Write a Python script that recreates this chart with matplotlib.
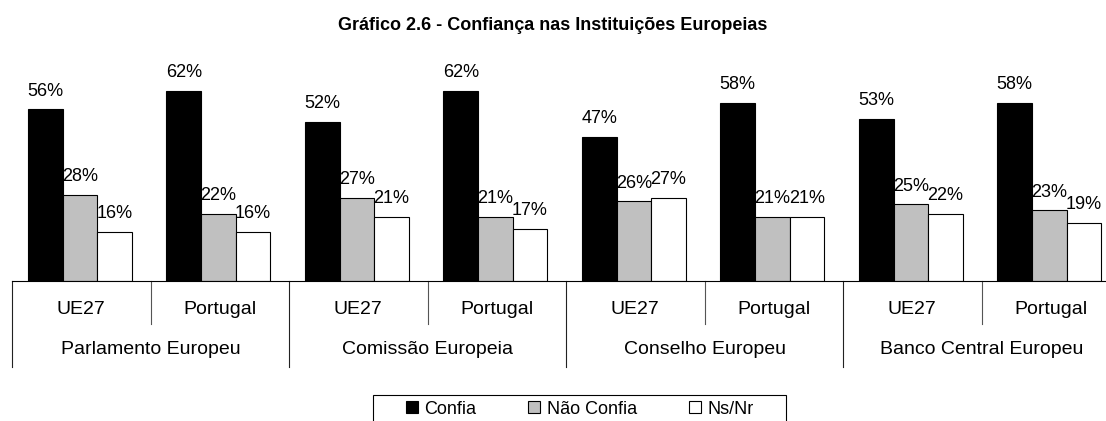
"""Gráfico 2.6 - Confiança nas Instituições Europeias (grouped bars with two-level category axis)."""

import matplotlib
matplotlib.use("Agg")
import matplotlib.pyplot as plt
import numpy as np
from matplotlib.lines import Line2D
from matplotlib.patches import Rectangle

plt.rcParams["font.family"] = ["Liberation Sans", "DejaVu Sans"]

TITLE = "Gráfico 2.6 - Confiança nas Instituições Europeias"
INSTITUTIONS = ["Parlamento Europeu", "Comissão Europeia", "Conselho Europeu", "Banco Central Europeu"]
REGIONS = ["UE27", "Portugal"]
SERIES = ["Confia", "Não Confia", "Ns/Nr"]

# one value per (institution, region) pair, in order
CONFIA = [56, 62, 52, 62, 47, 58, 53, 58]
NAO_CONFIA = [28, 22, 27, 21, 26, 21, 25, 23]
NS_NR = [16, 16, 21, 17, 27, 21, 22, 19]

COLORS = ["black", "#c0c0c0", "white"]

W, H = 1106, 421
fig = plt.figure(figsize=(W / 100, H / 100), dpi=100)

# axes geometry in pixels (baseline at y=281, categories from x=12, 138.5 px each)
base_y = 281
px_per_pct = 3.066
ymax = 70
left_px, right_px = 12, 12 + 8 * 138.5
ax_h = ymax * px_per_pct
ax = fig.add_axes([left_px / W, (H - base_y) / H, (right_px - left_px) / W, ax_h / H])

n = len(CONFIA)
x = np.arange(n) + 0.5
bw = 0.25
for k, (vals, col) in enumerate(zip([CONFIA, NAO_CONFIA, NS_NR], COLORS)):
    pos = x + (k - 1) * bw - 0.01
    ax.bar(pos, vals, width=bw, color=col, edgecolor="black", linewidth=0.8, zorder=2)
    for px_, v in zip(pos, vals):
        ax.annotate(f"{v}%", (px_, v), xytext=(0, 7), textcoords="offset points",
                    ha="center", va="bottom", fontsize=13, annotation_clip=False)

ax.set_xlim(0, n)
ax.set_ylim(0, ymax)
for s in ["top", "right", "left"]:
    ax.spines[s].set_visible(False)
ax.spines["bottom"].set_color("black")
ax.spines["bottom"].set_linewidth(0.8)
ax.set_xticks([])
ax.set_yticks([])

# two-level category axis drawn below the baseline
tr = ax.get_xaxis_transform()


def frac(py):
    return (base_y - py) / ax_h


for i in range(n + 1):
    outer = i % 2 == 0
    y_end = frac(367) if outer else frac(324)
    ax.add_line(Line2D([i, i], [0, y_end], transform=tr, color="#222222" if outer else "#555555",
                       linewidth=0.8, clip_on=False))

for i in range(n):
    ax.text(i + 0.5, frac(310), REGIONS[i % 2], transform=tr, ha="center", va="center", fontsize=14)
for j, name in enumerate(INSTITUTIONS):
    ax.text(2 * j + 1, frac(349), name, transform=tr, ha="center", va="center", fontsize=14)

fig.text(0.5, (H - 25) / H, TITLE, ha="center", va="center", fontsize=13, fontweight="bold")

# legend with a square box cut by the bottom edge
handles = [Line2D([], [], marker="s", linestyle="none", markersize=8, markerfacecolor=c,
                  markeredgecolor="black", markeredgewidth=0.8) for c in COLORS]
fig.legend(handles, SERIES, ncol=3, loc="center", bbox_to_anchor=(579 / W, (H - 409) / H),
           frameon=False, fontsize=13, handlelength=0.8, handletextpad=0.3, columnspacing=2.8,
           borderpad=0)
fig.patches.append(Rectangle((373 / W, -0.05), (786 - 373) / W, (H - 395) / H + 0.05,
                             transform=fig.transFigure, fill=False, edgecolor="black", linewidth=0.8))

fig.savefig("out.png", dpi=100)
